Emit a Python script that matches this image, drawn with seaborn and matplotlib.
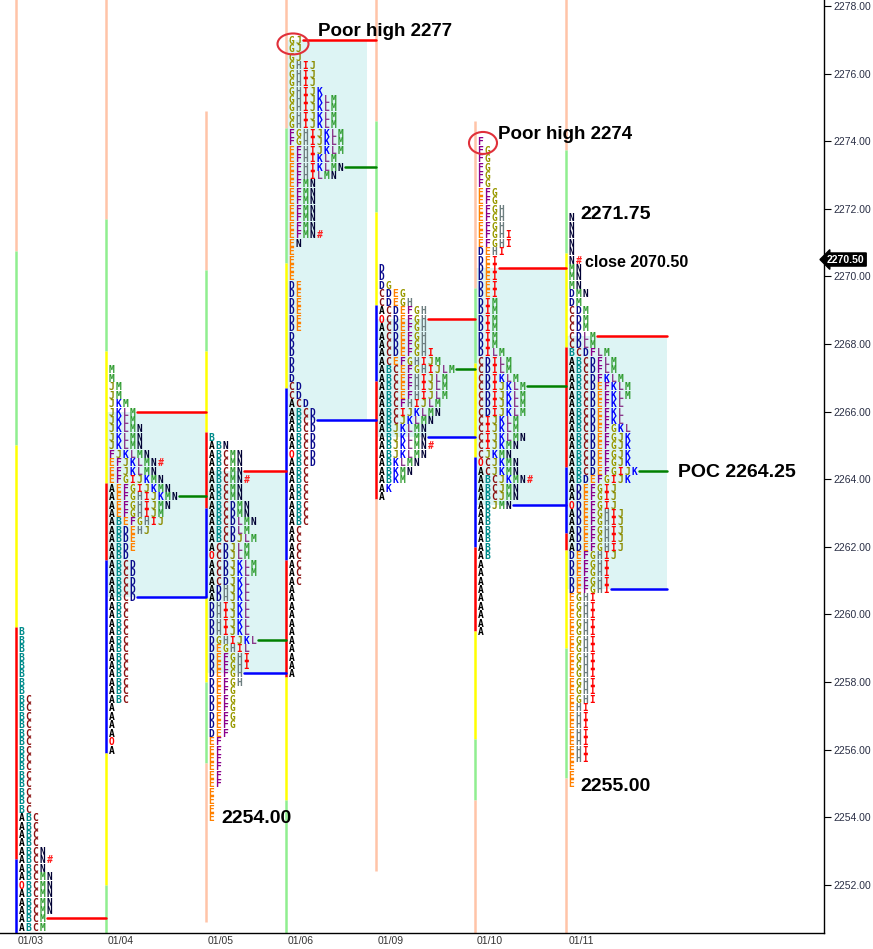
import matplotlib
matplotlib.use("Agg")
import matplotlib.pyplot as plt
from matplotlib.patches import Ellipse
import seaborn as sns
import pandas as pd

# ---- session data -------------------------------------------------------
days = ["01/03", "01/04", "01/05", "01/06", "01/09", "01/10", "01/11"]
tick = 0.25

# highest TPO price of every session
tpo_high = [2259.50, 2267.25, 2265.25, 2277.00, 2270.25, 2274.00, 2271.75]

# TPO letter rows, top to bottom, as (letters, repeat)
rows_0103 = [("B", 8), ("BC", 14), ("ABC", 4), ("ABCN", 1), ("ABCN#", 1), ("ABCN", 1),
             ("ABCMN", 1), ("OBCMN", 1), ("ABCMN", 3), ("ABCM", 2)]
rows_0104 = [("M", 2), ("JM", 2), ("JKM", 1), ("JKLM", 2), ("JKLMN", 3), ("FJKLMN", 1),
             ("EFJKLMN#", 1), ("EFJKLMN", 1), ("EFGIJKMN", 1), ("AEFGIJKMN", 1),
             ("AEFGHIJKMN", 1), ("AEFGHIJMN", 1), ("AEFGHIJM", 1), ("ABEFGHIJ", 1),
             ("ABDEHJ", 1), ("ABDE", 2), ("ABD", 1), ("ABCD", 5), ("ABC", 12),
             ("A", 4), ("O", 1), ("A", 1)]
rows_0105 = [("B", 1), ("ABN", 1), ("ABCMN", 3), ("ABCMN#", 1), ("ABCMN", 2), ("ABCDMN", 2),
             ("ABCDLMN", 1), ("ABCDLM", 1), ("ABCDJLM", 1), ("ACDJLM", 1), ("OCDJLM", 1),
             ("ACDJKLM", 2), ("ACDJKL", 1), ("ADHJKL", 2), ("DHIJKL", 4), ("DGHIJKL", 1),
             ("DEGHIL", 1), ("DEFGHI", 2), ("DEFGH", 2), ("DEFG", 5), ("DEF", 1),
             ("EF", 6), ("E", 4)]
rows_0106 = [("GJ", 3), ("GHIJ", 3), ("GHIJK", 1), ("GHIJKLM", 4), ("FGHIJKLM", 2),
             ("EFHIJKLM", 1), ("EFHIKLM", 1), ("EFHIKLMN", 1), ("EFHILMN", 1), ("EFMN", 6),
             ("EFMN#", 1), ("EN", 1), ("E", 4), ("DE", 6), ("D", 6), ("CD", 2), ("ACD", 1),
             ("ABCD", 5), ("OBCD", 1), ("ABCD", 1), ("ABC", 7), ("AC", 7), ("A", 11)]
rows_0109 = [("D", 2), ("DG", 1), ("CDEG", 1), ("CDEGH", 1), ("ACDEFGH", 1), ("OCDEFGH", 1),
             ("ACDEFGH", 3), ("ACDEFGHI", 1), ("ACEFGHIJM", 1), ("ABCEFGHIJLM", 1),
             ("ABCEFHIJLM", 3), ("ABCFHIJLM", 1), ("ABCIJKLMN", 1), ("ABCJKLMN", 1),
             ("ABJKLMN", 2), ("ABJKLMN#", 1), ("ABJKLMN", 1), ("ABKLMN", 1), ("ABKMN", 1),
             ("ABKM", 1), ("AK", 1), ("A", 1)]
rows_0110 = [("F", 1), ("FG", 5), ("EFG", 2), ("EFGH", 3), ("EFGHI", 2), ("DEHI", 1),
             ("DEI", 5), ("DIM", 6), ("DILM", 1), ("CDILM", 2), ("CDIKLM", 1), ("CDIJKLM", 4),
             ("CIJKLM", 2), ("CIJKLMN", 1), ("CIJKMN", 1), ("CJKMN", 1), ("OCJKMN", 1),
             ("ACJKMN", 1), ("ABCJKMN#", 1), ("ABCJMN", 2), ("ABJMN", 1), ("AB", 6), ("A", 9)]
rows_0111 = [("N", 5), ("N#", 1), ("MN", 3), ("DMN", 1), ("DM", 1), ("CDM", 3), ("CDLM", 2),
             ("BCDFLM", 1), ("ABCDFLM", 2), ("ABCDFKLM", 1), ("ABCDEFKLM", 2),
             ("ABCDEFKL", 3), ("ABCDEFGKL", 1), ("ABCDEFGJK", 4), ("ABCDEFGIJK", 1),
             ("ABDEFGIJK", 1), ("ADEFGIJ", 2), ("ODEFGIJ", 1), ("ADEFGHIJ", 5),
             ("DEFGHIJ", 1), ("DEFGHI", 4), ("EGHI", 13), ("EHI", 7), ("E", 3)]
profiles = [rows_0103, rows_0104, rows_0105, rows_0106, rows_0109, rows_0110, rows_0111]

# value area high / point of control / value area low (None = off chart)
vah = [2251.00, 2266.00, 2264.25, 2277.00, 2268.75, 2270.25, 2268.25]
poc = [None, 2263.50, 2259.25, 2273.25, 2267.25, 2266.75, 2264.25]
val = [None, 2260.50, 2258.25, 2265.75, 2265.25, 2263.25, 2260.75]

last_price = 2270.50
price_ticks = list(range(2252, 2279, 2))

# colour-coded session bars: (top, bottom, colour key)
bars = [
    [(2278.2, 2270.75, "s"), (2270.75, 2265.0, "g"), (2265.0, 2259.625, "y"),
     (2259.625, 2252.75, "r"), (2252.75, 2250.5, "b")],
    [(2278.2, 2271.7, "s"), (2271.7, 2267.8, "g"), (2267.8, 2263.9, "y"),
     (2263.9, 2261.6, "r"), (2261.6, 2255.9, "b"), (2255.9, 2252.0, "y"), (2252.0, 2250.5, "g")],
    [(2274.9, 2270.2, "s"), (2270.2, 2267.8, "g"), (2267.8, 2265.4, "y"), (2265.4, 2263.15, "r"),
     (2263.15, 2260.5, "b"), (2260.5, 2258.0, "y"), (2258.0, 2255.6, "g"), (2255.6, 2250.9, "s")],
    [(2278.2, 2274.4, "s"), (2274.4, 2270.4, "g"), (2270.4, 2266.7, "y"),
     (2266.7, 2261.6, "b"), (2261.6, 2258.15, "r"), (2258.15, 2254.5, "y"), (2254.5, 2250.5, "g")],
    [(2278.2, 2274.6, "s"), (2274.6, 2271.9, "g"), (2271.9, 2269.15, "y"),
     (2269.15, 2266.9, "b"), (2266.9, 2263.4, "r"), (2263.4, 2252.4, "s")],
    [(2274.6, 2269.65, "s"), (2269.65, 2267.45, "g"), (2267.45, 2264.65, "y"),
     (2264.65, 2262.0, "b"), (2262.0, 2259.5, "r"), (2259.5, 2256.3, "y"),
     (2256.3, 2254.5, "g"), (2254.5, 2250.5, "s")],
    [(2278.2, 2273.75, "s"), (2273.75, 2270.7, "g"), (2270.7, 2267.9, "y"),
     (2267.9, 2264.35, "r"), (2264.35, 2262.4, "b"), (2262.4, 2261.9, "r"),
     (2261.9, 2259.0, "y"), (2259.0, 2255.15, "g"), (2255.15, 2250.5, "s")],
]

# ---- layout / style -----------------------------------------------------
W, H = 873, 949
day_x = [16, 106, 206, 286, 376, 475, 566]       # session column left edges
line_end = [106, 206, 286, 376, 475, 566, 667]
shade_end = [106, 205, 286, 367, 475, 566, 667]
char_w = 7.0
text_x0 = 2.0

bar_colors = {"s": "#FFC4A8", "g": "#90EE90", "y": "#FFFF00", "r": "#FF0000", "b": "#0000FF"}
letter_colors = {
    "A": "#000000", "B": "#008B8B", "C": "#8B1010", "D": "#0A0A8C", "E": "#FF8000",
    "F": "#8B008B", "G": "#999900", "H": "#6E7F80", "I": "#FF0000", "J": "#8B8B00",
    "K": "#0000FF", "L": "#8B3A8B", "M": "#2E9B2E", "N": "#000033", "O": "#FF0000",
    "#": "#FF2020",
}
va_fill = "#DDF4F4"

sns.set_theme(style="white")
plt.rcParams["font.family"] = ["Liberation Sans", "DejaVu Sans"]

fig = plt.figure(figsize=(W / 100, H / 100), dpi=100)
ax = fig.add_axes([0, 16 / H, 824 / W, 933 / H])
ax.set_xlim(0, 824)
ax.set_ylim(2250.57, 2278.18)


def expand(rows, high):
    out = []
    p = high
    for letters, n in rows:
        for _ in range(n):
            out.append((p, letters))
            p -= tick
    return out


expanded = [expand(r, h) for r, h in zip(profiles, tpo_high)]

# value-area shading
for d in range(len(days)):
    if val[d] is not None:
        ax.fill_between([day_x[d] + 1, shade_end[d]], val[d], vah[d],
                        color=va_fill, lw=0, zorder=0)

# session bars
for d, segs in enumerate(bars):
    for top, bot, c in segs:
        ax.plot([day_x[d], day_x[d]], [top, bot], color=bar_colors[c], lw=1.8,
                solid_capstyle="butt", zorder=1)

# TPO letters, one glyph per cell
for d, prof in enumerate(expanded):
    for p, letters in prof:
        for j, ch in enumerate(letters):
            ax.text(day_x[d] + text_x0 + (j + 0.5) * char_w, p, ch,
                    color=letter_colors[ch], family="DejaVu Sans Mono", weight="bold",
                    fontsize=6.9, ha="center", va="center_baseline", zorder=3)

# VAH / POC / VAL level lines
recs = []
for d in range(len(days)):
    lookup = {p: s for p, s in expanded[d]}
    for kind, lvl in (("vah", vah[d]), ("poc", poc[d]), ("val", val[d])):
        if lvl is None:
            continue
        x0 = day_x[d] + text_x0 + len(lookup.get(lvl, "")) * char_w + 1.5
        seg = f"{d}-{kind}"
        recs.append({"x": x0, "price": lvl, "kind": kind, "seg": seg})
        recs.append({"x": line_end[d], "price": lvl, "kind": kind, "seg": seg})
lv = pd.DataFrame(recs)
sns.lineplot(data=lv, x="x", y="price", hue="kind", units="seg", estimator=None,
             sort=False, palette={"vah": "#FF0000", "poc": "#008000", "val": "#0000FF"},
             legend=False, lw=1.8, ax=ax, zorder=2)

# annotations
lows = [prof[-1][0] for prof in expanded]
bold = dict(weight="bold", color="black", zorder=4)
ax.text(day_x[3] + 32, tpo_high[3] + 0.25, f"Poor high {tpo_high[3]:.0f}",
        fontsize=13.5, ha="left", va="center", **bold)
ax.text(day_x[5] + 23, tpo_high[5] + 0.2, f"Poor high {tpo_high[5]:.0f}",
        fontsize=13.5, ha="left", va="center", **bold)
ax.add_patch(Ellipse((day_x[3] + 7, tpo_high[3] - 0.12), 31, 0.62, fill=False,
                     ec="#E0303A", lw=1.5, zorder=4))
ax.add_patch(Ellipse((day_x[5] + 8, tpo_high[5] - 0.05), 28, 0.65, fill=False,
                     ec="#E0303A", lw=1.5, zorder=4))
ax.text(day_x[6] + 14, tpo_high[6] + 0.07, f"{tpo_high[6]:.2f}",
        fontsize=14, ha="left", va="center", **bold)
ax.text(day_x[6] + 19, last_price - 0.1, "close 2070.50",
        fontsize=11.5, ha="left", va="center", **bold)
ax.text(678, poc[6] - 0.05, f"POC {poc[6]:.2f}",
        fontsize=14, ha="left", va="center", **bold)
ax.text(day_x[6] + 14, lows[6] - 0.1, f"{lows[6]:.2f}",
        fontsize=14, ha="left", va="center", **bold)
ax.text(day_x[2] + 15, lows[2] - 0.05, f"{lows[2]:.2f}",
        fontsize=14, ha="left", va="center", **bold)

# axes styling
for side in ("left", "top"):
    ax.spines[side].set_visible(False)
for side in ("right", "bottom"):
    ax.spines[side].set_visible(True)
    ax.spines[side].set_color("black")
    ax.spines[side].set_linewidth(1.0)
ax.grid(False)
ax.yaxis.tick_right()
ax.set_yticks(price_ticks)
ax.set_yticklabels([f"{t:.2f}" for t in price_ticks])
ax.tick_params(axis="y", direction="out", length=5, width=0.8, color="black",
               labelsize=7.5, labelcolor="#2A2F45", pad=2)
ax.set_xticks([x + 15 for x in day_x])
ax.set_xticklabels(days)
ax.tick_params(axis="x", length=0, labelsize=7.5, labelcolor="#333333", pad=2)
ax.set_xlabel("")
ax.set_ylabel("")

# last-price marker on the price scale
ax.text(827, last_price, f"{last_price:.2f}", color="white", fontsize=7.5, weight="bold",
        ha="left", va="center", clip_on=False, zorder=5,
        bbox=dict(boxstyle="larrow,pad=0.15", fc="black", ec="black"))

fig.savefig("out.png", dpi=100)
